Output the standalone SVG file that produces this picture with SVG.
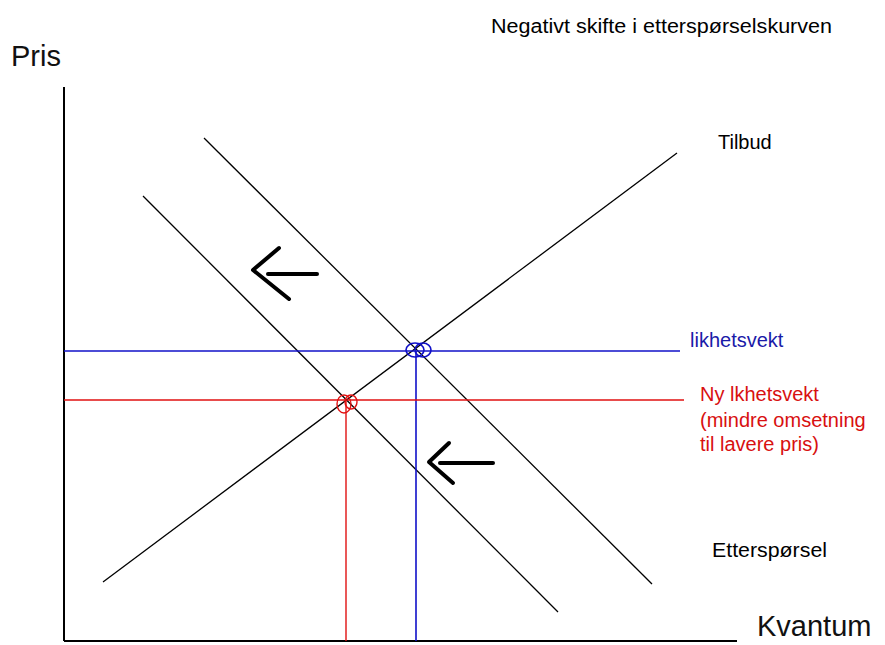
<svg xmlns="http://www.w3.org/2000/svg" width="885" height="645" viewBox="0 0 885 645">
<style>
text{font-family:"Liberation Sans",Arial,sans-serif;}
.t{font-size:20px;fill:#000;}
.big{font-size:29px;fill:#111;}
.blue{font-size:20px;fill:#1a1aa8;}
.red{font-size:20px;fill:#d81010;}
.curve{stroke:#000;stroke-width:1.3;fill:none;}
.axis{stroke:#000;stroke-width:2;fill:none;}
.bl{stroke:#1010c8;stroke-width:1.6;fill:none;}
.rd{stroke:#e01010;stroke-width:1.4;fill:none;}
.arr{stroke:#000;stroke-width:4;fill:none;stroke-linecap:round;stroke-linejoin:round;}
</style>
<rect width="885" height="645" fill="#fff"/>
<g id="title"><text class="t" x="491" y="33" textLength="341" lengthAdjust="spacingAndGlyphs">Negativt skifte i etterspørselskurven</text></g>
<g id="axes">
<line class="axis" x1="64" y1="87" x2="64" y2="641"/>
<line class="axis" x1="64" y1="641" x2="737" y2="641"/>
<text class="big" x="11" y="66">Pris</text>
<text class="big" x="757" y="636">Kvantum</text>
</g>
<g id="connectors">
<line id="tilbud-line" class="curve" x1="103" y1="582" x2="677" y2="153"/>
<line id="ettersporsel-line" class="curve" x1="204" y1="138" x2="652" y2="584"/>
<line id="ny-ettersporsel-line" class="curve" x1="143" y1="196" x2="558" y2="612"/>
<line class="bl" x1="64" y1="351" x2="680" y2="351"/>
<line class="bl" x1="416" y1="351" x2="416" y2="641"/>
<line class="rd" x1="64" y1="400" x2="684" y2="400"/>
<line class="rd" x1="346" y1="400" x2="346" y2="641"/>
</g>
<g id="likevekt">
<ellipse class="bl" cx="415" cy="350" rx="9" ry="7"/>
<ellipse class="bl" cx="423" cy="350" rx="8" ry="7"/>
</g>
<g id="ny-likevekt">
<ellipse class="rd" cx="344" cy="404" rx="7" ry="9"/>
<ellipse class="rd" cx="351" cy="402" rx="6" ry="7"/>
</g>
<g id="arrow1">
<polyline class="arr" points="279,248 253,270 289,299"/>
<line class="arr" x1="268" y1="274" x2="317" y2="274"/>
</g>
<g id="arrow2">
<polyline class="arr" points="449,443 429,462 453,483"/>
<line class="arr" x1="440" y1="463" x2="493" y2="463"/>
</g>
<g id="tilbud"><text class="t" x="718" y="149">Tilbud</text></g>
<g id="ettersporsel"><text class="t" x="712" y="557" textLength="115" lengthAdjust="spacingAndGlyphs">Etterspørsel</text></g>
<g id="likhetsvekt"><text class="blue" x="690" y="347">likhetsvekt</text></g>
<g id="ny-likhetsvekt">
<text class="red" x="700" y="401">Ny lkhetsvekt</text>
<text class="red" x="700" y="427">(mindre omsetning</text>
<text class="red" x="700" y="451">til lavere pris)</text>
</g>
</svg>
